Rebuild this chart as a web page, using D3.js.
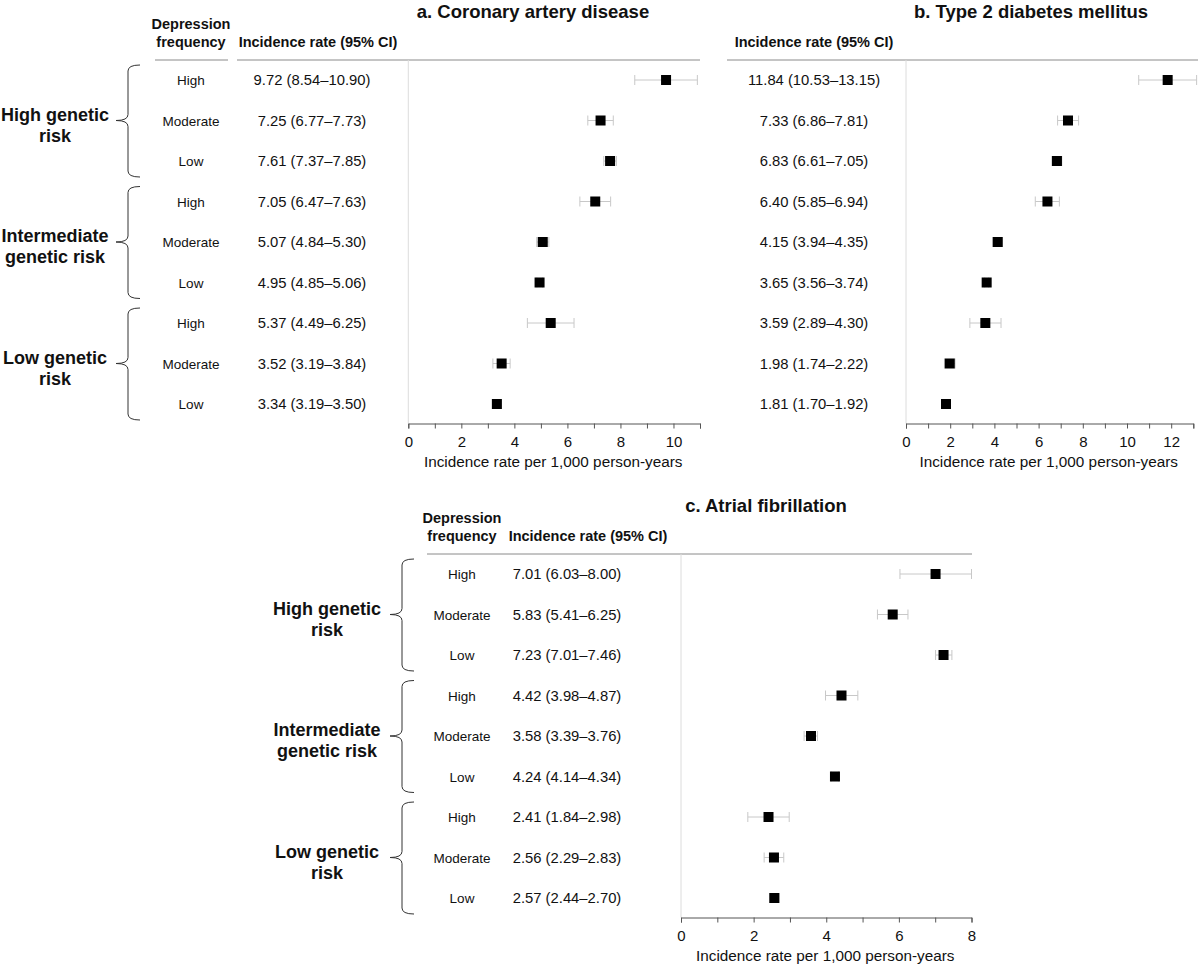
<!DOCTYPE html>
<html>
<head>
<meta charset="utf-8">
<script src="https://cdn.jsdelivr.net/npm/d3@7"></script>
<style>
  html, body { margin: 0; padding: 0; background: #fff; }
  svg { display: block; font-family: "Liberation Sans", Arial, Helvetica, sans-serif; }
</style>
</head>
<body>
<svg id="chart" width="1200" height="968"></svg>
<script>
// ---------- data ----------
const depressionLevels = ["High", "Moderate", "Low", "High", "Moderate", "Low", "High", "Moderate", "Low"];
const geneticGroups = [["High genetic", "risk"], ["Intermediate", "genetic risk"], ["Low genetic", "risk"]];

const cadRate = [9.72, 7.25, 7.61, 7.05, 5.07, 4.95, 5.37, 3.52, 3.34];
const cadLow  = [8.54, 6.77, 7.37, 6.47, 4.84, 4.85, 4.49, 3.19, 3.19];
const cadHigh = [10.90, 7.73, 7.85, 7.63, 5.30, 5.06, 6.25, 3.84, 3.50];

const t2dRate = [11.84, 7.33, 6.83, 6.40, 4.15, 3.65, 3.59, 1.98, 1.81];
const t2dLow  = [10.53, 6.86, 6.61, 5.85, 3.94, 3.56, 2.89, 1.74, 1.70];
const t2dHigh = [13.15, 7.81, 7.05, 6.94, 4.35, 3.74, 4.30, 2.22, 1.92];

const afRate = [7.01, 5.83, 7.23, 4.42, 3.58, 4.24, 2.41, 2.56, 2.57];
const afLow  = [6.03, 5.41, 7.01, 3.98, 3.39, 4.14, 1.84, 2.29, 2.44];
const afHigh = [8.00, 6.25, 7.46, 4.87, 3.76, 4.34, 2.98, 2.83, 2.70];

const cadTicks = d3.range(0, 12);
const t2dTicks = d3.range(0, 14);
const afTicks = d3.range(0, 9);

const titles = ["a. Coronary artery disease", "b. Type 2 diabetes mellitus", "c. Atrial fibrillation"];
const axisTitle = "Incidence rate per 1,000 person-years";
const headerDep = ["Depression", "frequency"];
const headerRate = "Incidence rate (95% CI)";

// ---------- drawing ----------
const svg = d3.select("#chart");
const fmt = d3.format(".2f");
const FONT_HDR = 14.5, FONT_ROW = 13.5, FONT_VAL = 14.8, FONT_TICK = 15, FONT_AXT = 15.3;

function drawPanel(cfg) {
  const g = svg.append("g");
  const y = d3.scaleLinear().domain([0, 8]).range([cfg.rowTop, cfg.rowTop + 8 * 40.5]);
  const x = d3.scaleLinear().domain([0, d3.max(cfg.ticks)]).range([cfg.x0, cfg.x1]);
  const lineY = cfg.rowTop - 20;
  const axisY = y(8) + 19.5;

  // title
  g.append("text").attr("x", cfg.titleX).attr("y", lineY - 42)
    .attr("text-anchor", "middle").attr("font-weight", "bold").attr("font-size", 18.5)
    .attr("fill", "#111").text(cfg.title);

  // headers
  if (cfg.depX != null) {
    g.append("text").attr("x", cfg.depX).attr("y", lineY - 31)
      .attr("text-anchor", "middle").attr("font-weight", "bold").attr("font-size", FONT_HDR)
      .attr("fill", "#111").text(headerDep[0]);
    g.append("text").attr("x", cfg.depX).attr("y", lineY - 13)
      .attr("text-anchor", "middle").attr("font-weight", "bold").attr("font-size", FONT_HDR)
      .attr("fill", "#111").text(headerDep[1]);
  }
  g.append("text").attr("x", cfg.rateHdrX).attr("y", lineY - 13)
    .attr("text-anchor", "middle").attr("font-weight", "bold").attr("font-size", FONT_HDR)
    .attr("fill", "#111").text(headerRate);

  // header rules
  cfg.rules.forEach(r => {
    g.append("line").attr("x1", r[0]).attr("x2", r[1]).attr("y1", lineY).attr("y2", lineY)
      .attr("stroke", "#8a8a8a").attr("stroke-width", 1);
  });

  // zero reference line
  g.append("line").attr("x1", x(0)).attr("x2", x(0)).attr("y1", lineY).attr("y2", axisY)
    .attr("stroke", "#dcdcdc").attr("stroke-width", 1);

  // row labels
  if (cfg.depX != null) {
    g.selectAll(".dep").data(depressionLevels).join("text")
      .attr("x", cfg.depX).attr("y", (d, i) => y(i) + 5)
      .attr("text-anchor", "middle").attr("font-size", FONT_ROW).attr("fill", "#111").text(d => d);
  }
  g.selectAll(".val").data(cfg.rate).join("text")
    .attr("x", cfg.valX).attr("y", (d, i) => y(i) + 5)
    .attr("text-anchor", "middle").attr("font-size", FONT_VAL).attr("fill", "#111")
    .text((d, i) => `${fmt(d)} (${fmt(cfg.low[i])}\u2013${fmt(cfg.high[i])})`);

  // error bars
  const eb = g.selectAll(".eb").data(cfg.rate).join("g");
  eb.append("line").attr("x1", (d, i) => x(cfg.low[i])).attr("x2", (d, i) => x(cfg.high[i]))
    .attr("y1", (d, i) => y(i)).attr("y2", (d, i) => y(i)).attr("stroke", "#c8c8c8").attr("stroke-width", 1);
  eb.append("line").attr("x1", (d, i) => x(cfg.low[i])).attr("x2", (d, i) => x(cfg.low[i]))
    .attr("y1", (d, i) => y(i) - 5).attr("y2", (d, i) => y(i) + 5).attr("stroke", "#c8c8c8").attr("stroke-width", 1);
  eb.append("line").attr("x1", (d, i) => x(cfg.high[i])).attr("x2", (d, i) => x(cfg.high[i]))
    .attr("y1", (d, i) => y(i) - 5).attr("y2", (d, i) => y(i) + 5).attr("stroke", "#c8c8c8").attr("stroke-width", 1);
  eb.append("rect").attr("x", d => x(d) - 5).attr("y", (d, i) => y(i) - 5)
    .attr("width", 10).attr("height", 10).attr("fill", "#000");

  // axis
  const ax = g.append("g").attr("transform", `translate(0,${axisY})`)
    .call(d3.axisBottom(x).tickValues(cfg.ticks).tickSize(5).tickPadding(8)
      .tickFormat(d => d % 2 === 0 ? d : ""));
  ax.select(".domain").attr("stroke", "#555");
  ax.selectAll(".tick line").attr("stroke", "#555");
  ax.selectAll(".tick text").attr("font-size", FONT_TICK).attr("fill", "#111")
    .attr("font-family", "Liberation Sans, Arial, sans-serif");
  g.append("text").attr("x", (cfg.x0 + cfg.x1) / 2 - 1).attr("y", axisY + 43)
    .attr("text-anchor", "middle").attr("font-size", FONT_AXT).attr("fill", "#111").text(axisTitle);

  // brackets + group labels
  if (cfg.brX != null) {
    geneticGroups.forEach((lab, gi) => {
      const top = y(gi * 3) - 15, bot = y(gi * 3 + 2) + 16, mid = y(gi * 3 + 1);
      const bx = cfg.brX;
      const path = `M${bx + 12},${top} Q${bx},${top} ${bx},${top + 6} L${bx},${mid - 6} Q${bx},${mid} ${bx - 12},${mid} ` +
                   `Q${bx},${mid} ${bx},${mid + 6} L${bx},${bot - 6} Q${bx},${bot} ${bx + 12},${bot}`;
      g.append("path").attr("d", path).attr("fill", "none").attr("stroke", "#333").attr("stroke-width", 1);
      g.append("text").attr("x", cfg.grpX).attr("y", mid).attr("text-anchor", "middle")
        .attr("font-weight", "bold").attr("font-size", 18).attr("fill", "#111").text(lab[0]);
      g.append("text").attr("x", cfg.grpX).attr("y", mid + 21).attr("text-anchor", "middle")
        .attr("font-weight", "bold").attr("font-size", 18).attr("fill", "#111").text(lab[1]);
    });
  }
}

drawPanel({
  title: titles[0], titleX: 533, rowTop: 80,
  x0: 408.3, x1: 700, ticks: cadTicks,
  rate: cadRate, low: cadLow, high: cadHigh,
  depX: 191, valX: 312, rateHdrX: 318,
  rules: [[155, 228], [237, 700]],
  brX: 128, grpX: 55
});
drawPanel({
  title: titles[1], titleX: 1031, rowTop: 80,
  x0: 906, x1: 1193.3, ticks: t2dTicks,
  rate: t2dRate, low: t2dLow, high: t2dHigh,
  depX: null, valX: 814, rateHdrX: 814,
  rules: [[727, 1198]],
  brX: null
});
drawPanel({
  title: titles[2], titleX: 766, rowTop: 574,
  x0: 681, x1: 971.5, ticks: afTicks,
  rate: afRate, low: afLow, high: afHigh,
  depX: 462, valX: 567, rateHdrX: 588,
  rules: [[427, 972]],
  brX: 402, grpX: 327
});
</script>
</body>
</html>
